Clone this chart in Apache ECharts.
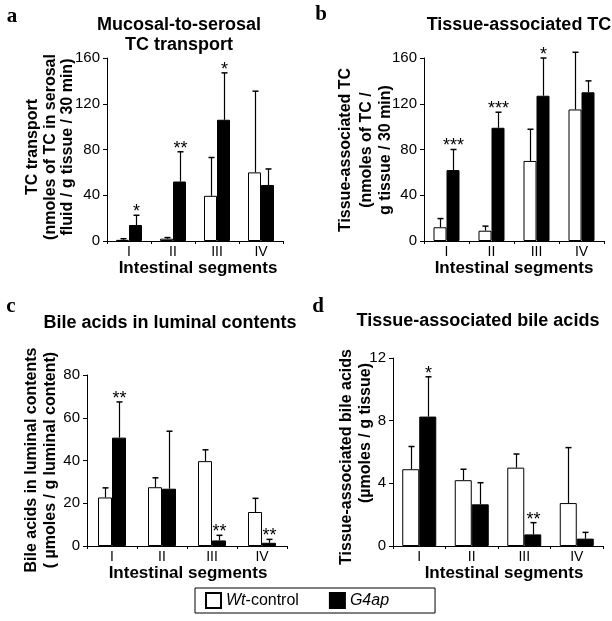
<!DOCTYPE html>
<html>
<head>
<meta charset="utf-8">
<script src="https://cdn.jsdelivr.net/npm/echarts@6/dist/echarts.min.js"></script>
<style>html,body{margin:0;padding:0;background:#fff}#c{width:612px;height:621px}</style>
</head>
<body>
<div id="c"></div>
<script>
// ---- data ----
const categories = ['I', 'II', 'III', 'IV'];
const seriesNames = ['Wt-control', 'G4ap'];

// panel a: Mucosal-to-serosal TC transport
const aWtMean = [1, 2, 39.5, 60];
const aWtSd   = [1, 1, 33.5, 71];
const aG4Mean = [14, 52, 106, 49];
const aG4Sd   = [8.5, 26, 41, 14];
const aStars  = ['*', '**', '*', ''];
const aTicks  = [0, 160, 40];

// panel b: Tissue-associated TC
const bWtMean = [12, 9, 70, 115];
const bWtSd   = [7.6, 4, 27.7, 50];
const bG4Mean = [62, 99, 127, 130];
const bG4Sd   = [18, 13.6, 33, 10];
const bStars  = ['***', '***', '*', ''];
const bTicks  = [0, 160, 40];

// panel c: Bile acids in luminal contents
const cWtMean = [22.7, 27.5, 39.7, 15.9];
const cWtSd   = [4.5, 4.4, 5.3, 6.4];
const cG4Mean = [50.7, 26.8, 2.6, 1.5];
const cG4Sd   = [16.7, 26.9, 2.4, 1.6];
const cStars  = ['**', '', '**', '**'];
const cTicks  = [0, 80, 20];

// panel d: Tissue-associated bile acids
const dWtMean = [4.9, 4.2, 5.0, 2.74];
const dWtSd   = [1.45, 0.7, 0.87, 3.54];
const dG4Mean = [8.26, 2.66, 0.74, 0.47];
const dG4Sd   = [2.54, 1.38, 0.75, 0.4];
const dStars  = ['*', '', '**', ''];
const dTicks  = [0, 12, 4];

const panelTitles = [
  ['Mucosal-to-serosal', 'TC transport'],
  ['Tissue-associated TC'],
  ['Bile acids in luminal contents'],
  ['Tissue-associated bile acids']
];
const yNames = [
  ['TC transport', '(nmoles of TC in serosal', 'fluid / g tissue / 30 min)'],
  ['Tissue-associated TC', '(nmoles of TC /', 'g tissue / 30 min)'],
  ['Bile acids in luminal contents', '( µmoles / g luminal content)'],
  ['Tissue-associated bile acids', '(µmoles / g tissue)']
];
const xName = 'Intestinal segments';
const letters = ['a', 'b', 'c', 'd'];

// ---- layout / style ----
const FONT = '"Liberation Sans", Arial, sans-serif';
const panels = [
  { wm: aWtMean, ws: aWtSd, gm: aG4Mean, gs: aG4Sd, st: aStars, tk: aTicks,
    grid: { left: 107, top: 58, width: 176, height: 183 }, bw: 13,
    titleX: 179, titleY: [25, 45], yNameX: [33, 51, 68], yNameY: 147,
    xNameX: 198, xNameY: 268, letter: [12, 17] },
  { wm: bWtMean, ws: bWtSd, gm: bG4Mean, gs: bG4Sd, st: bStars, tk: bTicks,
    grid: { left: 424, top: 58, width: 180, height: 183 }, bw: 13,
    titleX: 519, titleY: [25], yNameX: [346, 367, 386], yNameY: 150,
    xNameX: 514, xNameY: 268, letter: [321, 15] },
  { wm: cWtMean, ws: cWtSd, gm: cG4Mean, gs: cG4Sd, st: cStars, tk: cTicks,
    grid: { left: 87, top: 375, width: 200, height: 171 }, bw: 14,
    titleX: 170, titleY: [323], yNameX: [32, 51], yNameY: 460,
    xNameX: 188, xNameY: 573, letter: [11, 307] },
  { wm: dWtMean, ws: dWtSd, gm: dG4Mean, gs: dG4Sd, st: dStars, tk: dTicks,
    grid: { left: 393, top: 358, width: 210, height: 188 }, bw: 17,
    titleX: 478, titleY: [321], yNameX: [347, 366], yNameY: [457, 433],
    xNameX: 504, xNameY: 573, letter: [318, 307] }
];

const grids = [], xAxes = [], yAxes = [], series = [], graphics = [];

panels.forEach((p, i) => {
  grids.push(Object.assign({ containLabel: false }, p.grid));
  xAxes.push({
    type: 'category', gridIndex: i, data: categories,
    axisLine: { lineStyle: { color: '#000', width: 1 } },
    axisTick: { show: true, length: 3, lineStyle: { color: '#000' } },
    axisLabel: { color: '#000', fontSize: 14, fontFamily: FONT, margin: 4 },
    splitLine: { show: false }
  });
  yAxes.push({
    type: 'value', gridIndex: i, min: p.tk[0], max: p.tk[1], interval: p.tk[2],
    axisLine: { show: true, lineStyle: { color: '#000', width: 1 } },
    axisTick: { show: true, length: 4, lineStyle: { color: '#000' } },
    axisLabel: { color: '#000', fontSize: 15, fontFamily: FONT, margin: 7 },
    splitLine: { show: false }
  });
  const bw = p.bw;
  series.push({
    name: seriesNames[0], type: 'bar', xAxisIndex: i, yAxisIndex: i,
    data: p.wm, barWidth: bw, barGap: '0%',
    itemStyle: { color: '#fff', borderColor: '#000', borderWidth: 1 }
  });
  series.push({
    name: seriesNames[1], type: 'bar', xAxisIndex: i, yAxisIndex: i,
    data: p.gm, barWidth: bw, barGap: '0%',
    itemStyle: { color: '#000', borderColor: '#000', borderWidth: 1 }
  });
  const mkErr = (means, sds, offset, stars) => ({
    type: 'custom', xAxisIndex: i, yAxisIndex: i, z: 5, silent: true,
    data: means.map((m, k) => [k, m, sds[k]]),
    renderItem: (params, api) => {
      const k = api.value(0), m = api.value(1), s = api.value(2);
      const p0 = api.coord([k, m]), p1 = api.coord([k, m + s]);
      const cx = Math.round(p0[0] + offset) + 0.5;
      const children = [
        { type: 'line', shape: { x1: cx, y1: p0[1], x2: cx, y2: p1[1] }, style: { stroke: '#000', lineWidth: 1.2 } },
        { type: 'line', shape: { x1: cx - 3, y1: p1[1], x2: cx + 3, y2: p1[1] }, style: { stroke: '#000', lineWidth: 1.5 } }
      ];
      const star = stars ? stars[params.dataIndex] : '';
      if (star) {
        children.push({ type: 'text', x: cx, y: p1[1] + 6, style: {
          text: star, font: '18px ' + FONT, fill: '#000', textAlign: 'center', textVerticalAlign: 'bottom' } });
      }
      return { type: 'group', children };
    }
  });
  series.push(mkErr(p.wm, p.ws, -bw / 2, null));
  series.push(mkErr(p.gm, p.gs, bw / 2, p.st));

  // titles
  panelTitles[i].forEach((t, j) => graphics.push({
    type: 'text', x: p.titleX, y: p.titleY[j],
    style: { text: t, font: 'bold 18px ' + FONT, fill: '#000', textAlign: 'center', textVerticalAlign: 'middle' }
  }));
  // y-axis names (rotated)
  yNames[i].forEach((t, j) => graphics.push({
    type: 'text', x: p.yNameX[j], y: Array.isArray(p.yNameY) ? p.yNameY[j] : p.yNameY, rotation: Math.PI / 2,
    style: { text: t, font: 'bold 16px ' + FONT, fill: '#000', textAlign: 'center', textVerticalAlign: 'middle' }
  }));
  // x-axis name
  graphics.push({
    type: 'text', x: p.xNameX, y: p.xNameY,
    style: { text: xName, font: 'bold 17px ' + FONT, fill: '#000', textAlign: 'center', textVerticalAlign: 'middle' }
  });
  // panel letter
  graphics.push({
    type: 'text', x: p.letter[0], y: p.letter[1],
    style: { text: letters[i], font: 'bold 21px "Liberation Serif", "Times New Roman", serif', fill: '#000', textAlign: 'center', textVerticalAlign: 'middle' }
  });
});

const chart = echarts.init(document.getElementById('c'), null, { renderer: 'canvas' });
chart.setOption({
  animation: false,
  backgroundColor: '#fff',
  grid: grids, xAxis: xAxes, yAxis: yAxes, series: series,
  graphic: graphics,
  legend: {
    data: seriesNames.map(n => ({ name: n, icon: 'rect' })), left: 195, top: 588, orient: 'horizontal',
    selectedMode: false, borderColor: '#000', borderWidth: 1,
    padding: [4, 46, 4, 10], itemWidth: 15, itemHeight: 15, itemGap: 30,
    formatter: n => n === 'Wt-control' ? '{i|Wt}{r|-control}' : '{i|G4ap}',
    textStyle: {
      color: '#000', fontSize: 16, fontFamily: FONT,
      rich: { i: { fontStyle: 'italic', fontSize: 16, fontFamily: FONT, color: '#000' },
              r: { fontSize: 16, fontFamily: FONT, color: '#000' } }
    }
  }
});
</script>
</body>
</html>
